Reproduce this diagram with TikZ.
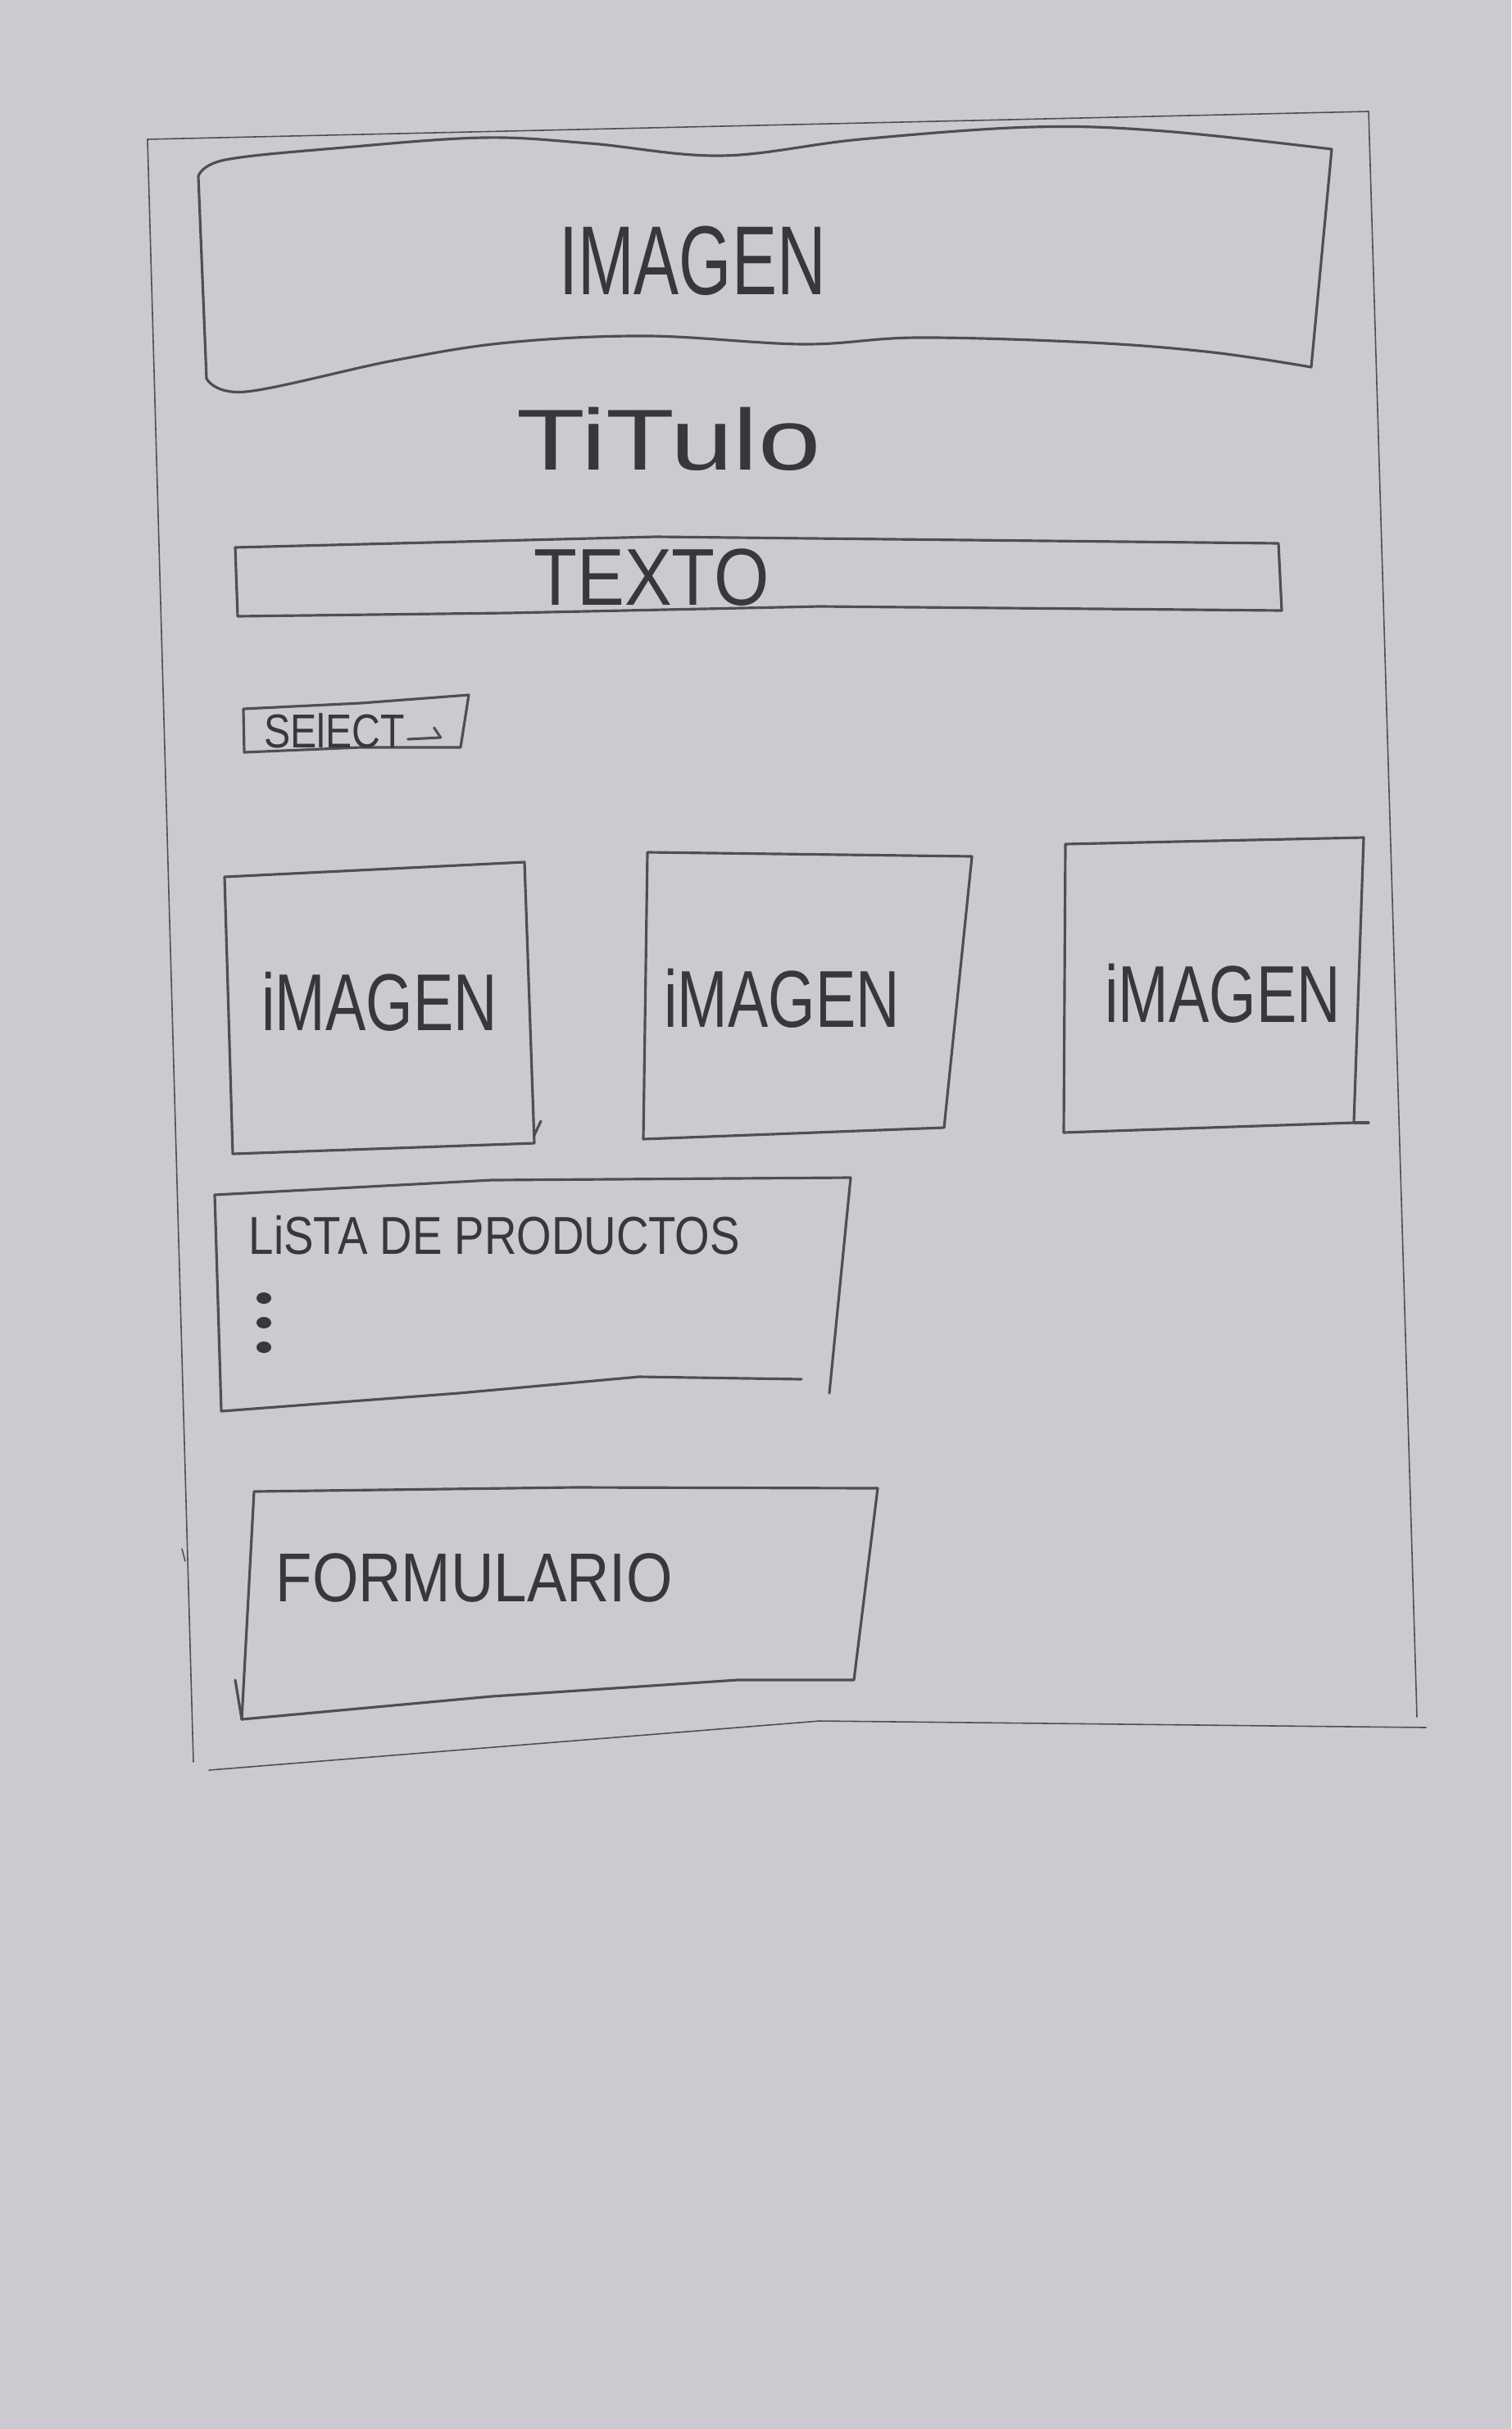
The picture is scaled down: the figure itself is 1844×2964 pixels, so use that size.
\documentclass[tikz,border=0pt]{standalone}
\usepackage{graphicx}
\usepackage{fontspec}
\setmainfont{Liberation Sans}
\definecolor{paper}{RGB}{203,202,208}
\definecolor{pencil}{RGB}{78,78,84}
\definecolor{ink}{RGB}{55,55,60}
\tikzset{
  frame/.style={draw=pencil, line width=0.45pt, line cap=round, line join=round},
  box/.style={draw=pencil, line width=0.9pt, line cap=round, line join=round},
  label/.style={text=ink, inner sep=0pt},
}
\newcommand{\hand}[2]{\scalebox{#1}[1]{#2}}
\begin{document}
\begin{tikzpicture}[x=0.01cm, y=-0.01cm]
  % sheet of paper
  \fill[paper] (0,0) rectangle (1844,2964);
  \useasboundingbox (0,0) rectangle (1844,2964);

  % page frame
  \draw[frame] (236,2150) -- (180,170) -- (1670,136) -- (1729,2095);
  \draw[frame] (255,2160) -- (1000,2100) -- (1740,2108);
  \draw[frame] (222,1890) -- (226,1905);

  % header image
  \draw[box] (242,215)
    -- plot[smooth, tension=0.6] coordinates {(242,215) (275,195) (420,180) (590,168) (720,175) (880,190) (1050,170) (1260,155) (1420,160) (1625,182)}
    -- (1600,448)
    -- plot[smooth, tension=0.6] coordinates {(1600,448) (1480,430) (1330,418) (1120,412) (980,420) (790,410) (620,418) (480,440) (300,478) (252,462)}
    -- cycle;
  \node[label, font=\fontsize{34}{40}\selectfont] (headimg) at (845,318) {\hand{0.69}{IMAGEN}};

  % title
  \node[label, font=\fontsize{30}{36}\selectfont] (title) at (816,536) {\hand{1.3}{TiTulo}};

  % text bar
  \draw[box] (287,668) -- (800,655) -- (1560,663) -- (1564,745) -- (1000,740) -- (620,748) -- (290,752) -- cycle;
  \node[label, font=\fontsize{28}{32}\selectfont] (text) at (795,705) {\hand{0.88}{TEXTO}};

  % select
  \draw[box] (297,865) -- (440,858) -- (572,848) -- (562,912) -- (440,912) -- (298,918) -- cycle;
  \node[label, font=\fontsize{16.5}{20}\selectfont, anchor=west] (select) at (322,892) {\hand{0.83}{SElECT}};
  \draw[box] (select.east) ++(3,10) coordinate (arr) -- ++(40,-2) -- ++(-8,-12);

  % three images
  \draw[box] (274,1070) -- (640,1052) -- (652,1395) -- (284,1408) -- cycle;
  \draw[box] (652,1385) -- (660,1368);
  \node[label, font=\fontsize{28}{32}\selectfont] (img1) at (463,1222) {\hand{0.75}{iMAGEN}};

  \draw[box] (790,1040) -- (1186,1045) -- (1152,1376) -- (785,1390) -- cycle;
  \node[label, font=\fontsize{28}{32}\selectfont] (img2) at (954,1218) {\hand{0.75}{iMAGEN}};

  \draw[box] (1300,1030) -- (1664,1022) -- (1652,1370) -- (1298,1382) -- cycle;
  \draw[box] (1652,1370) -- (1670,1370);
  \node[label, font=\fontsize{28}{32}\selectfont] (img3) at (1492,1212) {\hand{0.75}{iMAGEN}};

  % product list
  \draw[box] (262,1458) -- (600,1440) -- (1038,1437) -- (1012,1700);
  \draw[box] (978,1683) -- (780,1680) -- (560,1700) -- (270,1722) -- (262,1458);
  \node[label, font=\fontsize{18.5}{22}\selectfont, anchor=west] (list) at (303,1507) {\hand{0.84}{LiSTA DE PRODUCTOS}};
  \foreach \y in {1584,1614,1644}
    \fill[ink] (322,\y) ellipse (9 and 7);

  % form
  \draw[box] (310,1820) -- (700,1815) -- (1071,1816) -- (1042,2050) -- (900,2050) -- (600,2070) -- (295,2098) -- cycle;
  \draw[box] (295,2098) -- (287,2050);
  \node[label, font=\fontsize{24}{28}\selectfont, anchor=west] (form) at (336,1925) {\hand{0.86}{FORMULARIO}};
\end{tikzpicture}
\end{document}
